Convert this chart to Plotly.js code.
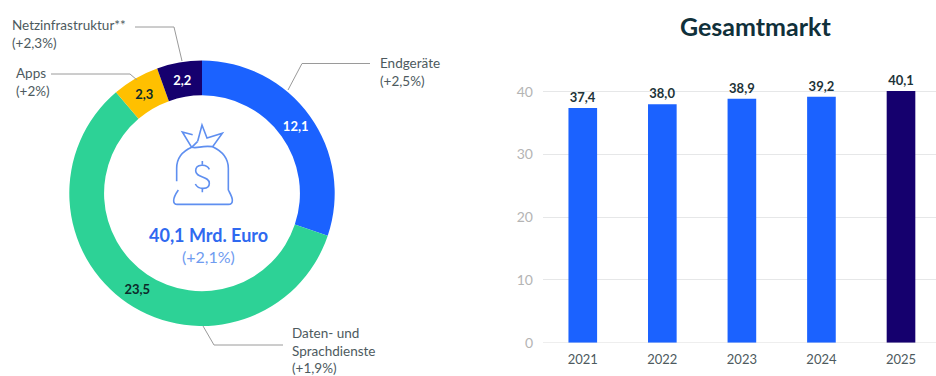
<!DOCTYPE html>
<html lang="de">
<head>
<meta charset="utf-8">
<script src="https://cdn.plot.ly/plotly-3.0.1.min.js"></script>
<style>html,body{margin:0;padding:0;background:#fff}#chart{width:936px;height:376px}</style>
</head>
<body>
<div id="chart"></div>
<script>
// Marktsegmente 2025 (Mrd. Euro)
const segments = ['Endgeräte', 'Daten- und Sprachdienste', 'Apps', 'Netzinfrastruktur'];
const segmentValues = [12.1, 23.5, 2.3, 2.2];
const segmentColors = ['#1b62ff', '#2dd296', '#ffc000', '#15006e'];
const segmentTextColors = ['#ffffff', '#0c2a2a', '#0c2a2a', '#ffffff'];

// Gesamtmarkt je Jahr (Mrd. Euro)
const years = ['2021', '2022', '2023', '2024', '2025'];
const marketValues = [37.4, 38.0, 38.9, 39.2, 40.1];
const barColors = ['#1b62ff', '#1b62ff', '#1b62ff', '#1b62ff', '#15006e'];
const yTicks = [0, 10, 20, 30, 40];

const W = 936, H = 376;
const FONT = 'Lato, "Noto Sans", sans-serif';
const px = v => v / W;
const py = v => 1 - v / H;

// Wandelt einen Pfad in Pixelkoordinaten in Paper-Koordinaten um
const toPaper = d => d.replace(/(-?[\d.]+),(-?[\d.]+)/g, (_, x, y) => `${px(+x)},${py(+y)}`);

const line = (d, color, width) => ({
  type: 'path', xref: 'paper', yref: 'paper', path: toPaper(d),
  line: {color, width}, fillcolor: 'rgba(0,0,0,0)', layer: 'above'
});

const label = (x, y, text, opts = {}) => Object.assign({
  xref: 'paper', yref: 'paper', x: px(x), y: py(y), text, showarrow: false,
  xanchor: 'left', yanchor: 'top', align: 'left',
  font: {family: FONT, size: 13.5, color: '#4d5a5e'}
}, opts);

// Geldsack-Symbol; Eingabe im 3-fachen Raster ab (150,110)
const bag = s => s.replace(/(-?[\d.]+),(-?[\d.]+)/g, (_, x, y) =>
  `${(150 + x / 3).toFixed(2)},${(110 + y / 3).toFixed(2)}`);
const iconBlue = '#5f8ff0';
const iconPaths = [
  'M128,74 L97,66 L125,112 C95,125 80,145 80,175 L80,214',
  'M143,94 L156,45 L171,84 L217,70 L188,110 C150,106 148,116 125,112',
  'M143,94 L125,112',
  'M188,110 C220,125 235,145 235,175 L235,240 C240,250 248,262 247,272 C247,280 243,283 235,283 L82,283 C74,283 71,279 71,272 C71,262 78,250 85,240',
  'M178,178 C170,160 137,162 137,182 C137,205 178,197 178,220 C178,240 145,240 136,222',
  'M157,153 L157,164 M157,236 L157,247'
].map(d => line(bag(d), iconBlue, 1.6));

// Führungslinien zu den Segmentbeschriftungen
const leaders = [
  'M135,27 L174,27 L182,61',
  'M51,74 L130,74 L137,80',
  'M370,63.5 L302,63.5 L288,90',
  'M283,345 L214,345 L203,326'
].map(d => line(d, '#9a9a9a', 1));

const pieTrace = {
  type: 'pie',
  labels: segments,
  values: segmentValues,
  sort: false,
  direction: 'clockwise',
  rotation: 0,
  hole: 0.738,
  domain: {x: [px(69.3), px(334.7)], y: [py(326), py(60.6)]},
  marker: {colors: segmentColors, line: {width: 0}},
  texttemplate: '%{value:.1f}',
  textposition: 'inside',
  insidetextorientation: 'horizontal',
  insidetextfont: {family: FONT, size: 13, color: segmentTextColors, weight: 700},
  showlegend: false,
  hoverinfo: 'label+value'
};

const barTrace = {
  type: 'bar',
  x: years,
  y: marketValues,
  width: 0.36,
  marker: {color: barColors, line: {width: 0}},
  texttemplate: '%{y:.1f}',
  textposition: 'outside',
  cliponaxis: false,
  textfont: {family: FONT, size: 13, color: '#1d3338', weight: 700},
  xaxis: 'x',
  yaxis: 'y',
  showlegend: false,
  hoverinfo: 'x+y'
};

const layout = {
  width: W,
  height: H,
  margin: {l: 0, r: 0, t: 0, b: 0},
  paper_bgcolor: '#ffffff',
  plot_bgcolor: '#ffffff',
  separators: ',.',
  font: {family: FONT},
  xaxis: {
    domain: [px(543), 1],
    type: 'category',
    range: [-0.5, 4.44],
    showgrid: false,
    zeroline: false,
    showline: false,
    ticks: '',
    ticklabelstandoff: 7,
    tickfont: {family: FONT, size: 13, color: '#4d5a5e'},
    fixedrange: true
  },
  yaxis: {
    domain: [py(342.7), py(79.2)],
    range: [0, 42],
    tickvals: yTicks,
    showgrid: true,
    gridcolor: '#e6e7e8',
    gridwidth: 1,
    zeroline: true,
    zerolinecolor: '#eeeeee',
    showline: false,
    ticks: '',
    ticklabelstandoff: 9,
    tickfont: {family: FONT, size: 14, color: '#b4b4b4'},
    fixedrange: true
  },
  shapes: [...leaders, ...iconPaths],
  annotations: [
    label(755, 25.5, '<b>Gesamtmarkt</b>', {
      xanchor: 'center', yanchor: 'middle', align: 'center',
      font: {family: FONT, size: 25, color: '#10303a'}
    }),
    label(10, 15, 'Netzinfrastruktur**<br>(+2,3%)'),
    label(14, 63, 'Apps<br>(+2%)'),
    label(378, 53, 'Endgeräte<br>(+2,5%)'),
    label(290, 323, 'Daten- und<br>Sprachdienste<br>(+1,9%)'),
    label(208.5, 235, '<b>40,1 Mrd. Euro</b>', {
      xanchor: 'center', yanchor: 'middle', align: 'center',
      font: {family: FONT, size: 18, color: '#2f69f0'}
    }),
    label(208.5, 256, '(+2,1%)', {
      xanchor: 'center', yanchor: 'middle', align: 'center',
      font: {family: FONT, size: 16, color: '#6f9bf0'}
    })
  ]
};

Plotly.newPlot('chart', [pieTrace, barTrace], layout, {displayModeBar: false, staticPlot: true});
</script>
</body>
</html>
